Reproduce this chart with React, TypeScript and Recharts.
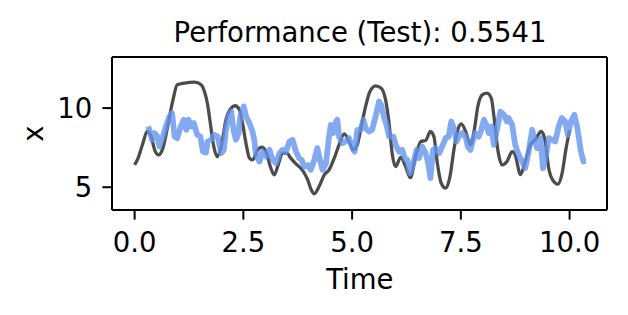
import React from 'react';
import { LineChart, Line, XAxis, YAxis, ReferenceLine } from 'recharts';

const titleText = 'Performance (Test): 0.5541';
const xLabel = 'Time';
const yLabel = 'x';
const xTicks = [0, 2.5, 5, 7.5, 10];
const yTicks = [5, 10];

const trueT = [0, 0.08, 0.19, 0.29, 0.38, 0.46, 0.55, 0.65, 0.76, 0.88, 0.98, 1.15, 1.38, 1.53, 1.6, 1.68, 1.74, 1.82, 1.9, 1.99, 2.1, 2.22, 2.31, 2.41, 2.48, 2.56, 2.64, 2.71, 2.83, 2.92, 3.02, 3.12, 3.21, 3.3, 3.4, 3.5, 3.59, 3.71, 3.82, 3.9, 3.98, 4.05, 4.13, 4.24, 4.36, 4.47, 4.59, 4.7, 4.82, 4.93, 5.03, 5.12, 5.21, 5.31, 5.41, 5.54, 5.67, 5.77, 5.85, 5.92, 6.0, 6.12, 6.23, 6.34, 6.46, 6.58, 6.69, 6.8, 6.88, 6.96, 7.05, 7.15, 7.25, 7.34, 7.43, 7.51, 7.61, 7.72, 7.81, 7.89, 7.99, 8.1, 8.2, 8.27, 8.35, 8.45, 8.56, 8.68, 8.75, 8.87, 8.98, 9.1, 9.21, 9.35, 9.44, 9.52, 9.61, 9.73, 9.82, 9.92, 10.0];
const trueV = [6.41, 6.84, 7.78, 8.52, 8.2, 7.36, 7.04, 7.47, 8.84, 10.5, 11.47, 11.58, 11.64, 11.47, 11.1, 10.2, 9.05, 7.57, 6.94, 7.57, 9.26, 10.0, 10.15, 9.9, 9.05, 7.78, 6.84, 6.73, 7.36, 7.53, 7.25, 6.3, 5.78, 6.41, 7.15, 7.15, 6.84, 6.47, 6.2, 5.9, 5.46, 4.9, 4.58, 5.04, 5.78, 6.1, 6.84, 7.68, 8.37, 7.89, 7.36, 7.68, 8.84, 10.1, 11.05, 11.41, 11.26, 10.52, 9.05, 7.15, 6.3, 6.9, 6.3, 5.6, 6.94, 7.89, 7.95, 8.52, 8.2, 6.52, 5.25, 4.94, 5.67, 7.36, 8.63, 9.0, 8.52, 7.68, 8.63, 10.1, 10.84, 10.95, 10.63, 9.26, 7.36, 6.41, 6.62, 7.25, 7.04, 5.8, 6.62, 7.68, 8.0, 8.52, 7.89, 6.2, 5.46, 5.19, 5.78, 7.47, 8.6];

const predT = [0.31, 0.34, 0.4, 0.46, 0.52, 0.57, 0.65, 0.73, 0.8, 0.86, 0.92, 0.98, 1.06, 1.13, 1.19, 1.24, 1.3, 1.36, 1.44, 1.51, 1.57, 1.64, 1.68, 1.76, 1.83, 1.91, 1.99, 2.05, 2.1, 2.16, 2.22, 2.28, 2.33, 2.39, 2.43, 2.51, 2.56, 2.64, 2.71, 2.75, 2.79, 2.87, 2.94, 3.02, 3.1, 3.17, 3.25, 3.33, 3.4, 3.48, 3.56, 3.63, 3.71, 3.78, 3.84, 3.9, 3.98, 4.05, 4.13, 4.2, 4.27, 4.32, 4.4, 4.47, 4.51, 4.57, 4.63, 4.66, 4.7, 4.78, 4.85, 4.93, 5.01, 5.06, 5.12, 5.2, 5.26, 5.31, 5.39, 5.46, 5.54, 5.62, 5.67, 5.73, 5.8, 5.85, 5.95, 6.0, 6.08, 6.15, 6.23, 6.27, 6.33, 6.41, 6.48, 6.54, 6.61, 6.69, 6.75, 6.8, 6.86, 6.92, 7.0, 7.07, 7.15, 7.22, 7.28, 7.34, 7.4, 7.45, 7.53, 7.61, 7.66, 7.72, 7.78, 7.83, 7.91, 7.96, 8.03, 8.1, 8.14, 8.2, 8.26, 8.33, 8.41, 8.49, 8.56, 8.6, 8.68, 8.75, 8.83, 8.91, 8.98, 9.06, 9.14, 9.2, 9.25, 9.33, 9.39, 9.46, 9.52, 9.59, 9.67, 9.75, 9.82, 9.9, 9.96, 10.03, 10.11, 10.18, 10.26, 10.32, 10.37];
const predV = [8.84, 8.63, 8.0, 8.42, 8.2, 7.57, 8.2, 8.94, 9.47, 9.68, 8.2, 8.1, 8.84, 9.26, 8.63, 9.26, 8.84, 9.05, 8.31, 8.2, 7.25, 7.19, 7.89, 8.0, 8.31, 8.2, 7.15, 7.36, 8.63, 9.47, 9.78, 8.52, 8.0, 8.42, 9.47, 10.1, 9.47, 9.05, 8.52, 8.0, 7.04, 6.62, 7.25, 6.94, 7.36, 6.73, 6.52, 7.15, 7.36, 7.25, 7.89, 8.0, 7.25, 6.84, 6.73, 6.3, 6.4, 6.1, 6.73, 7.47, 6.62, 6.1, 6.52, 8.2, 8.94, 8.42, 9.15, 9.26, 8.2, 7.78, 7.89, 8.1, 7.47, 7.25, 8.63, 8.63, 9.26, 8.73, 8.52, 8.63, 9.47, 10.42, 10.2, 9.47, 8.84, 8.2, 8.2, 7.68, 7.25, 7.36, 6.73, 6.73, 5.88, 6.52, 7.36, 6.84, 7.57, 7.15, 6.52, 5.57, 7.36, 7.47, 7.15, 7.57, 8.1, 8.2, 9.15, 8.73, 7.89, 8.2, 8.42, 8.2, 7.57, 7.36, 8.0, 8.42, 8.2, 8.52, 9.26, 8.84, 8.42, 8.84, 7.68, 8.63, 9.78, 9.58, 9.15, 9.37, 8.94, 7.68, 7.04, 6.62, 6.2, 7.25, 8.63, 7.89, 7.47, 8.1, 6.2, 7.04, 8.1, 8.0, 7.89, 8.84, 9.37, 9.15, 8.31, 9.15, 9.58, 8.73, 7.25, 6.62, 6.66];

const trueData = trueT.map((t, i) => ({ t, v: trueV[i] }));
const predData = predT.map((t, i) => ({ t, v: predV[i] }));

const FONT = 'DejaVu Sans';
const FS = 27.5;
const xDomain: [number, number] = [-0.52, 10.86];
const yDomain: [number, number] = [3.56, 13.23];

export default function App() {
  return (
    <div style={{ position: 'absolute', left: 0, top: 0, width: 628, height: 315, background: '#fff' }}>
      <LineChart width={628} height={315} data={trueData} margin={{ top: 57, right: 21, bottom: 0, left: 0 }}>
        <XAxis
          dataKey="t"
          type="number"
          domain={xDomain}
          ticks={xTicks}
          allowDataOverflow
          tickFormatter={(v: number) => v.toFixed(1)}
          height={105}
          tickSize={9.6}
          tickMargin={12.6}
          stroke="#000"
          strokeWidth={2}
          tickLine={{ stroke: '#000', strokeWidth: 2 }}
          tick={{ fontSize: FS, fill: '#000', fontFamily: FONT }}
        />
        <YAxis
          type="number"
          domain={yDomain}
          ticks={yTicks}
          allowDataOverflow
          width={112}
          tickSize={9.6}
          tickMargin={10.2}
          stroke="#000"
          strokeWidth={2}
          tickLine={{ stroke: '#000', strokeWidth: 2 }}
          tick={{ fontSize: FS, fill: '#000', fontFamily: FONT }}
        />
        <ReferenceLine y={yDomain[1]} stroke="#000" strokeWidth={2} ifOverflow="visible" />
        <ReferenceLine x={xDomain[1]} stroke="#000" strokeWidth={2} ifOverflow="visible" />
        <Line
          data={trueData}
          dataKey="v"
          type="monotone"
          stroke="#000"
          strokeOpacity={0.7}
          strokeWidth={3.3}
          dot={false}
          activeDot={false}
          isAnimationActive={false}
        />
        <Line
          data={predData}
          dataKey="v"
          type="linear"
          stroke="#6495ED"
          strokeOpacity={0.8}
          strokeWidth={5.8}
          strokeLinejoin="round"
          dot={false}
          activeDot={false}
          isAnimationActive={false}
        />
      </LineChart>
      <svg width={628} height={315} style={{ position: 'absolute', left: 0, top: 0, pointerEvents: 'none' }}>
        <text x={360} y={41.5} textAnchor="middle" fontFamily={FONT} fontSize={FS} fill="#000">{titleText}</text>
        <text x={359.8} y={289} textAnchor="middle" fontFamily={FONT} fontSize={FS} fill="#000">{xLabel}</text>
        <text x={33} y={133.6} textAnchor="middle" dominantBaseline="central" transform="rotate(-90 33 133.6)" fontFamily={FONT} fontSize={FS} fill="#000">{yLabel}</text>
      </svg>
    </div>
  );
}
